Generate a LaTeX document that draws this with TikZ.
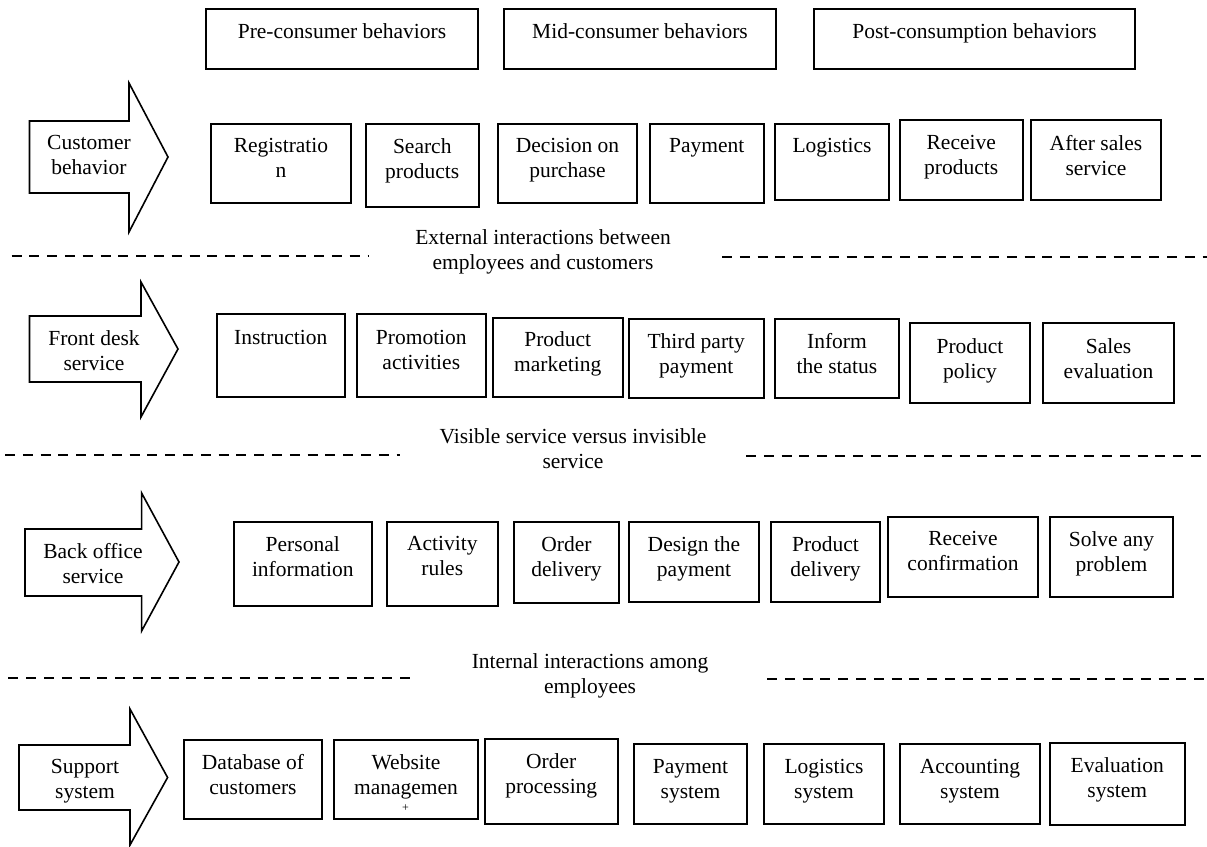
\documentclass[tikz,border=0pt]{standalone}
\usepackage{fontspec}
\setmainfont{Liberation Serif}
\usetikzlibrary{fit,calc}
\tikzset{
  box/.style={draw=black,line width=2pt,inner sep=0pt,outer sep=0pt},
  lbl/.style={font=\fontsize{21.5}{25}\selectfont,align=center,inner sep=0pt,text=black},
  arrowshape/.style={draw=black,line width=1.6pt,fill=white,line join=miter},
  sepline/.style={draw=black,line width=2pt,dash pattern=on 10pt off 7.8pt},
}
\newcommand\bx[7]{%
  \node[box,fit={(#2,#3) (#4,#5)}] (#1) {};
  \node[lbl,anchor=north] (#1t) at ({(#2+#4)/2},#6) {#7};}
\newcommand\bigarrow[9]{% name, xl, xb, xtip, bodytop, bodybot, headtop, headbot, tipy
  \draw[arrowshape] (#2,#5) -- (#3,#5) -- (#3,#7) -- (#4,#9) -- (#3,#8) -- (#3,#6) -- (#2,#6) -- cycle;
  \coordinate (#1) at (#4,#9);}
\begin{document}
\begin{tikzpicture}[x=1pt,y=-1pt]
\useasboundingbox[fill=white] (0,0) rectangle (1207,846);

% header boxes
\bx{pre}{206}{9}{478}{69}{23}{Pre-consumer behaviors}
\bx{mid}{504}{9}{776}{69}{23}{Mid-consumer behaviors}
\bx{post}{814}{9}{1135}{69}{23}{Post-consumption behaviors}

% row 1
\bigarrow{a1}{29.5}{129}{168}{121}{193}{83}{232}{157}
\node[lbl,anchor=north] (a1t) at (89,135) {Customer\\behavior};
\bx{r1a}{211}{124}{351}{203}{138}{Registratio\\n}
\bx{r1b}{365.5}{124}{479}{207}{138}{Search\\products}
\bx{r1c}{498}{124}{637}{203}{138}{Decision on\\purchase}
\bx{r1d}{650}{124}{763.5}{203}{138}{Payment}
\bx{r1e}{775}{124}{889}{200}{138}{Logistics}
\bx{r1f}{900}{120}{1022.5}{200}{135}{Receive\\products}
\bx{r1g}{1031}{120}{1161}{200}{135}{After sales\\service}

\node[lbl,anchor=north] (s1) at (543,229) {External interactions between\\employees and customers};
\draw[sepline] (11.5,256) -- (368,256);
\draw[sepline] (722,257) -- (1207,257);

% row 2
\bigarrow{a2}{29.5}{141}{178}{316}{382}{282}{417}{349}
\node[lbl,anchor=north] (a2t) at (94,330) {Front desk\\service};
\bx{r2a}{217}{314}{344.5}{397}{330}{Instruction}
\bx{r2b}{357}{314}{485.6}{397}{330}{Promotion\\activities}
\bx{r2c}{492.5}{318}{623}{397}{331}{Product\\marketing}
\bx{r2d}{629}{319}{763.5}{398}{333}{Third party\\payment}
\bx{r2e}{775}{319}{899}{398}{333}{Inform\\the status}
\bx{r2f}{910}{323}{1030}{403}{338}{Product\\policy}
\bx{r2g}{1043}{323}{1174}{403}{338}{Sales\\evaluation}

\node[lbl,anchor=north] (s2) at (573,428) {Visible service versus invisible\\service};
\draw[sepline] (5,455) -- (400,455);
\draw[sepline] (746,456) -- (1207,456);

% row 3
\bigarrow{a3}{25}{141.6}{179}{529}{596}{493}{631}{562}
\node[lbl,anchor=north] (a3t) at (93,543) {Back office\\service};
\bx{r3a}{233.5}{522}{372}{606}{536}{Personal\\information}
\bx{r3b}{386.5}{522}{498}{606}{536}{Activity\\rules}
\bx{r3c}{514}{522}{619}{603}{536}{Order\\delivery}
\bx{r3d}{629}{522}{759}{602}{536}{Design the\\payment}
\bx{r3e}{771}{522}{880}{602}{536}{Product\\delivery}
\bx{r3f}{888}{517}{1038}{597}{531}{Receive\\confirmation}
\bx{r3g}{1050}{517}{1173}{597}{531}{Solve any\\problem}

\node[lbl,anchor=north] (s3) at (590,653) {Internal interactions among\\employees};
\draw[sepline] (8.4,678) -- (412.5,678);
\draw[sepline] (767,679) -- (1207,679);

% row 4
\bigarrow{a4}{19}{130}{167.6}{745}{810}{709}{845}{777.5}
\node[lbl,anchor=north] (a4t) at (85,759) {Support\\system};
\bx{r4a}{184}{740}{322}{819}{754}{Database of\\customers}
\bx{r4b}{334}{740}{478}{819}{754}{Website\\managemen}
\node[font=\fontsize{12}{12}\selectfont,inner sep=0pt] (r4bplus) at (405.6,808) {+};
\bx{r4c}{485}{739}{617.5}{824}{753}{Order\\processing}
\bx{r4d}{634}{744}{747}{824}{759}{Payment\\system}
\bx{r4e}{764}{744}{884}{824}{759}{Logistics\\system}
\bx{r4f}{900}{744}{1040}{824}{759}{Accounting\\system}
\bx{r4g}{1050}{743}{1184.5}{825}{757}{Evaluation\\system}
\end{tikzpicture}
\end{document}
